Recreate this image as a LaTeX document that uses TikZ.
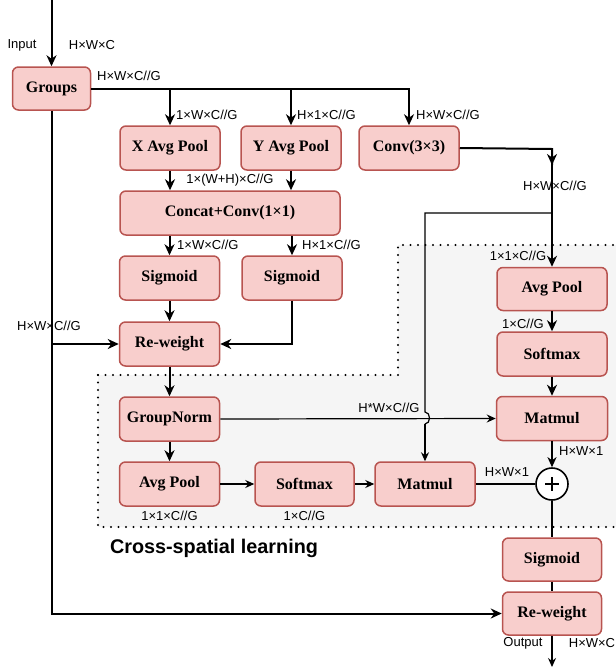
\documentclass[tikz,border=0pt]{standalone}
\usepackage{fontspec}
\setmainfont{Liberation Serif}
\newfontfamily\labfont{Liberation Sans}
\usetikzlibrary{arrows.meta}
\definecolor{boxfill}{HTML}{F8CECC}
\definecolor{boxline}{HTML}{B85450}
\definecolor{regfill}{HTML}{F5F5F5}
\begin{document}
\begin{tikzpicture}[x=1pt,y=-1pt,
  box/.style={draw=boxline, fill=boxfill, line width=1.5pt, rounded corners=6pt,
    minimum width=100pt, minimum height=44pt, inner sep=0pt,
    font=\fontsize{16}{16}\selectfont\bfseries},
  lab/.style={font=\labfont\fontsize{13}{13}\selectfont, inner sep=0pt},
  thk/.style={line width=2pt, -{Stealth[length=11pt,width=10pt,inset=3.5pt]}},
  thkl/.style={line width=2pt},
  thn/.style={line width=1.2pt, -{Stealth[length=9pt,width=8pt,inset=3pt]}},
  thnl/.style={line width=1.2pt},
  dotline/.style={line width=2.2pt, line cap=round, dash pattern=on 0pt off 7.5pt},
]
\useasboundingbox (0,0) rectangle (616,667);
% cross-spatial region
\path[fill=regfill] (98,375) -- (398,375) -- (398,245) -- (625,245) -- (625,527) -- (98,527) -- cycle;
\draw[dotline] (98,375) -- (398,375) -- (398,245) -- (625,245);
\draw[dotline] (98,375) -- (98,527) -- (625,527);

% nodes
\node[box, minimum width=78pt, minimum height=43pt] (groups) at (51.5,88.5) {Groups};
\node[box] (xap) at (170,148) {X Avg Pool};
\node[box] (yap) at (291,148) {Y Avg Pool};
\node[box] (conv) at (409,148) {Conv(3×3)};
\node[box, minimum width=220pt] (concat) at (230,213) {Concat+Conv(1×1)};
\node[box] (sig1) at (169.5,278) {Sigmoid};
\node[box] (sig2) at (292,278) {Sigmoid};
\node[box] (rw1) at (169.5,344) {Re-weight};
\node[box] (gn) at (169.5,419) {GroupNorm};
\node[box] (ap1) at (169.5,484) {Avg Pool};
\node[box, minimum width=99pt] (sm1) at (304.5,484) {Softmax};
\node[box] (mm1) at (425,484) {Matmul};
\node[box, minimum width=110pt, minimum height=43pt] (ap2) at (552,289) {Avg Pool};
\node[box, minimum width=110pt] (sm2) at (552,354) {Softmax};
\node[box, minimum width=111pt] (mm2) at (552,418.5) {Matmul};
\node[circle, draw, fill=white, line width=1.6pt, minimum size=32pt, inner sep=0pt] (plus) at (552,484) {};
\draw[line width=1.6pt] (plus.center) ++(-7,0) -- ++(14,0);
\draw[line width=1.6pt] (plus.center) ++(0,-7) -- ++(0,14);
\node[box, minimum width=99pt, minimum height=43pt] (sig3) at (552,559.5) {Sigmoid};
\node[box, minimum width=99pt, minimum height=43pt] (rw2) at (552,613.5) {Re-weight};

% coordinates
\coordinate (in) at (51.5,0);
\coordinate (out) at (552,667);
\coordinate (convturn) at (552,149);
\coordinate (midarr) at (552,165);
\coordinate (br) at (552,213);
\coordinate (brturn) at (425,213);
\coordinate (jmpa) at (425,412);
\coordinate (jmpb) at (425,424);

% connectors, top part
\draw[thk] (in) -- (groups.north);
\draw[thk] (groups.east) -- (conv.north |- groups.east) -- (conv.north);
\draw[thk] (xap.north |- groups.east) -- (xap.north);
\draw[thk] (yap.north |- groups.east) -- (yap.north);
\draw[thk] (xap.south) -- (xap.south |- concat.north);
\draw[thk] (yap.south) -- (yap.south |- concat.north);
\draw[thk] (sig1.north |- concat.south) -- (sig1.north);
\draw[thk] (sig2.north |- concat.south) -- (sig2.north);
\draw[thk] (sig1.south) -- (rw1.north);
\draw[thk] (sig2.south) -- (sig2.south |- rw1.east) -- (rw1.east);
\draw[thk] (groups.south) -- (groups.south |- rw2.west) -- (rw2.west);
\draw[thk] (groups.south |- rw1.west) -- (rw1.west);
\draw[thk] (rw1.south) -- (gn.north);
\draw[thk] (gn.south) -- (ap1.north);

% right column
\draw[thkl] (conv.east) -- (convturn) -- (midarr);
\draw[thk] (convturn) -- (midarr);
\draw[thk] (midarr) -- (ap2.north);
\draw[thk] (ap2.south) -- (sm2.north);
\draw[thk] (sm2.south) -- (mm2.north);
\draw[line width=1.6pt, -{Stealth[length=10pt,width=9pt,inset=3pt]}] (mm2.south) -- (plus.north);
\draw[thnl] (plus.south) -- (sig3.north);
\draw[thnl] (sig3.south) -- (rw2.north);
\draw[thn] (rw2.south) -- (out);

% cross-spatial thin connectors
\draw[thn] (ap1.east) -- (sm1.west);
\draw[thn] (sm1.east) -- (mm1.west);
\draw[thnl] (mm1.east) -- (plus.west);
\draw[thn] (gn.east) -- (mm2.west);
\draw[thnl] (br) -- (brturn) -- (jmpa) .. controls (431,412) and (431,424) .. (jmpb);
\draw[thn] (jmpb) -- (mm1.north);

% labels
\node[lab] at (22,45) {Input};
\node[lab] at (92,45) {H×W×C};
\node[lab, anchor=west] at (97,76) {H×W×C//G};
\node[lab, anchor=west] at (176,115) {1×W×C//G};
\node[lab, anchor=west] at (297,115) {H×1×C//G};
\node[lab, anchor=west] at (416,115) {H×W×C//G};
\node[lab] at (230,180) {1×(W+H)×C//G};
\node[lab, anchor=west] at (177,245) {1×W×C//G};
\node[lab, anchor=west] at (302,245) {H×1×C//G};
\node[lab] at (49,326) {H×W×C//G};
\node[lab] at (555,186) {H×W×C//G};
\node[lab] at (518,256) {1×1×C//G};
\node[lab] at (523,324) {1×C//G};
\node[lab] at (389,408) {H*W×C//G};
\node[lab, anchor=west] at (559,451) {H×W×1};
\node[lab] at (507,472) {H×W×1};
\node[lab] at (169.5,516) {1×1×C//G};
\node[lab] at (304.5,516) {1×C//G};
\node[lab] at (523,643) {Output};
\node[lab] at (592,643) {H×W×C};
\node[font=\labfont\fontsize{19.8}{19.8}\selectfont\bfseries, inner sep=0pt] at (214,548) {Cross-spatial learning};
\end{tikzpicture}
\end{document}
